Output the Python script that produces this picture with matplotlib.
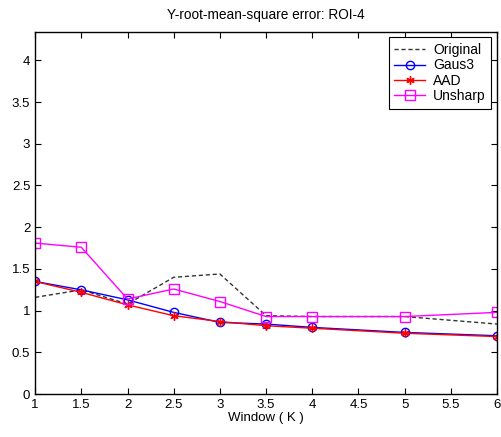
import numpy as np
import matplotlib
matplotlib.use("Agg")
import matplotlib.pyplot as plt

plt.rcParams['font.family'] = ['Liberation Sans', 'DejaVu Sans']

# Data
window = [1, 1.5, 2, 2.5, 3, 3.5, 4, 5, 6]
original = [1.16, 1.25, 1.08, 1.40, 1.44, 0.94, 0.93, 0.93, 0.84]
gaus3 = [1.35, 1.25, 1.13, 0.98, 0.86, 0.84, 0.80, 0.74, 0.70]
aad = [1.35, 1.22, 1.07, 0.94, 0.87, 0.82, 0.79, 0.73, 0.69]
unsharp = [1.81, 1.76, 1.14, 1.26, 1.11, 0.93, 0.93, 0.93, 0.98]

xticks = [1, 1.5, 2, 2.5, 3, 3.5, 4, 4.5, 5, 5.5, 6]
xtick_labels = ['1', '1.5', '2', '2.5', '3', '3.5', '4', '4.5', '5', '5.5', '6']
yticks = [0, 0.5, 1, 1.5, 2, 2.5, 3, 3.5, 4]
ytick_labels = ['0', '0.5', '1', '1.5', '2', '2.5', '3', '3.5', '4']

fig = plt.figure(figsize=(5.02, 4.37), dpi=100)
ax = fig.add_axes([0.07, 0.098, 0.92, 0.829])

ax.plot(window, original, '--', color='#333333', linewidth=1.0, dashes=(3, 2),
        label='Original')
ax.plot(window, gaus3, '-o', color='blue', linewidth=1.0, markersize=6,
        markerfacecolor='none', markeredgewidth=1.0, label='Gaus3')
ax.plot(window, aad, '-', marker=(6, 2, 0), color='red', linewidth=1.0, markersize=6,
        markeredgewidth=1.0, label='AAD')
ax.plot(window, unsharp, '-s', color='magenta', linewidth=1.0, markersize=6.5,
        markerfacecolor='none', markeredgewidth=1.0, label='Unsharp')

ax.set_xlim(1, 6)
ax.set_ylim(0, 4.34)
ax.set_xticks(xticks)
ax.set_xticklabels(xtick_labels)
ax.set_yticks(yticks)
ax.set_yticklabels(ytick_labels)
ax.tick_params(direction='in', top=True, right=True, labelsize=9.5, length=4)
for s in ax.spines.values():
    s.set_linewidth(1.0)

ax.set_xlabel('Window ( K )', fontsize=9.5, labelpad=1)
ax.set_title('Y-root-mean-square error: ROI-4', fontsize=9.8, pad=9)

leg = ax.legend(loc='upper right', fontsize=10, fancybox=False, edgecolor='black',
                framealpha=1, handlelength=2.2, borderaxespad=0.4,
                labelspacing=0.1, handletextpad=0.6)
leg.get_frame().set_linewidth(0.8)

plt.savefig('out.png', dpi=100)
